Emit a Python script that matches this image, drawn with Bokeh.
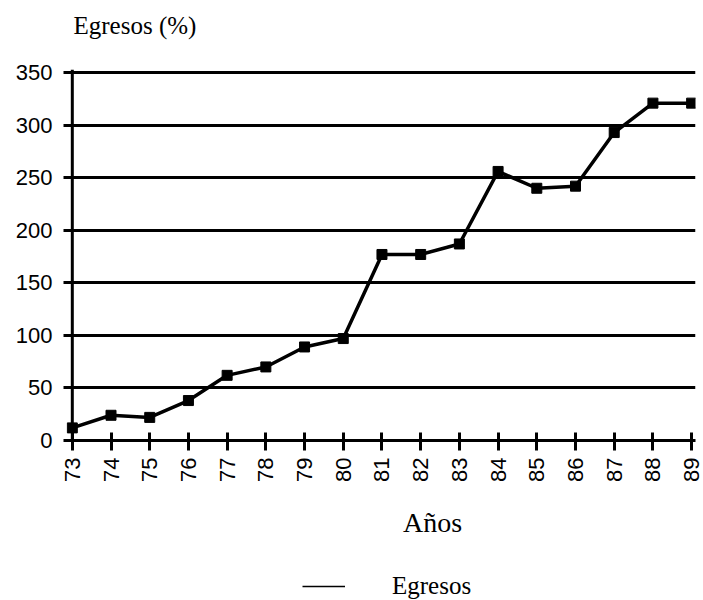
import math
from bokeh.plotting import figure
from bokeh.layouts import column
from bokeh.models import (Range1d, FixedTicker, Span, Legend, LegendItem, Label)
from bokeh.embed import file_html
from bokeh.resources import INLINE

# ---- data ----
years = [73, 74, 75, 76, 77, 78, 79, 80, 81, 82, 83, 84, 85, 86, 87, 88, 89]
egresos = [12, 24, 22, 38, 62, 70, 89, 97, 177, 177, 187, 256, 240, 242, 293, 321, 321]
y_ticks = [0, 50, 100, 150, 200, 250, 300, 350]
x_tick_labels = {y: str(y) for y in years}
series_name = "Egresos"
y_title = "Egresos (%)"
x_title = "Años"

SERIF = "Liberation Serif"
SANS = "Liberation Sans"

W = 703
H_HEAD = 50
H_MAIN = 435
H_FOOT = 115
LEFT, RIGHT = 66, 8


def strip(height):
    f = figure(width=W, height=height, output_backend="svg", toolbar_location=None,
               x_range=Range1d(LEFT, W - RIGHT), y_range=Range1d(0, height),
               x_axis_type=None, y_axis_type=None,
               min_border_left=LEFT, min_border_right=RIGHT,
               min_border_top=0, min_border_bottom=0)
    f.outline_line_color = None
    f.grid.visible = False
    f.background_fill_color = "white"
    f.border_fill_color = "white"
    return f


# ---- header strip: y title ----
p0 = strip(H_HEAD)
p0.add_layout(Label(x=73, y=H_HEAD - 25, text=y_title,
                    text_align="left", text_baseline="middle",
                    text_font=SERIF, text_font_size="25px", text_color="black"))

# ---- main chart ----
p = figure(width=W, height=H_MAIN, output_backend="svg", toolbar_location=None,
           x_range=Range1d(years[0] - 0.15, years[-1] + 0.1),
           y_range=Range1d(0, 353),
           min_border_left=LEFT, min_border_right=RIGHT, min_border_top=19, min_border_bottom=45)
p.outline_line_color = None
p.background_fill_color = "white"
p.border_fill_color = "white"

p.xgrid.grid_line_color = None
p.ygrid.ticker = FixedTicker(ticks=y_ticks)
p.ygrid.grid_line_color = "black"
p.ygrid.grid_line_width = 3

ya = p.yaxis[0]
ya.ticker = FixedTicker(ticks=y_ticks)
ya.axis_line_color = None
ya.major_tick_line_color = "black"
ya.major_tick_line_width = 3
ya.major_tick_out = 3
ya.major_tick_in = 6
ya.minor_tick_line_color = None
ya.major_label_standoff = 11
ya.major_label_text_font = SANS
ya.major_label_text_font_size = "22px"
ya.major_label_text_color = "black"

xa = p.xaxis[0]
xa.ticker = FixedTicker(ticks=years)
xa.major_label_overrides = x_tick_labels
xa.major_label_orientation = math.pi / 2
xa.axis_line_color = "black"
xa.axis_line_width = 3
xa.major_tick_line_color = "black"
xa.major_tick_line_width = 3
xa.major_tick_in = 8
xa.major_tick_out = 10
xa.minor_tick_line_color = None
xa.major_label_standoff = 7
xa.major_label_text_font = SANS
xa.major_label_text_font_size = "22px"
xa.major_label_text_color = "black"

p.add_layout(Span(location=years[0], dimension="height", line_color="black", line_width=3))

p.line(years, egresos, line_color="black", line_width=3.5)
p.scatter(years, egresos, marker="square", size=10, fill_color="black", line_color="black")

# ---- footer strip: x title and legend ----
p2 = strip(H_FOOT)
p2.add_layout(Label(x=432, y=H_FOOT - 37, text=x_title,
                    text_align="center", text_baseline="middle",
                    text_font=SERIF, text_font_size="28px", text_color="black"))

dummy = p2.line(x=[float("nan")], y=[float("nan")], line_color="black", line_width=1.5)
legend = Legend(items=[LegendItem(label=series_name, renderers=[dummy])],
                location=(302 - LEFT, 0), padding=0, margin=0, spacing=0,
                glyph_width=43, glyph_height=24, label_height=24, label_standoff=47,
                label_text_font=SERIF, label_text_font_size="25px",
                label_text_color="black", border_line_color=None,
                background_fill_alpha=0)
p2.add_layout(legend)

layout = column(p0, p, p2, spacing=0)
open("out.html", "w").write(file_html(layout, INLINE))
